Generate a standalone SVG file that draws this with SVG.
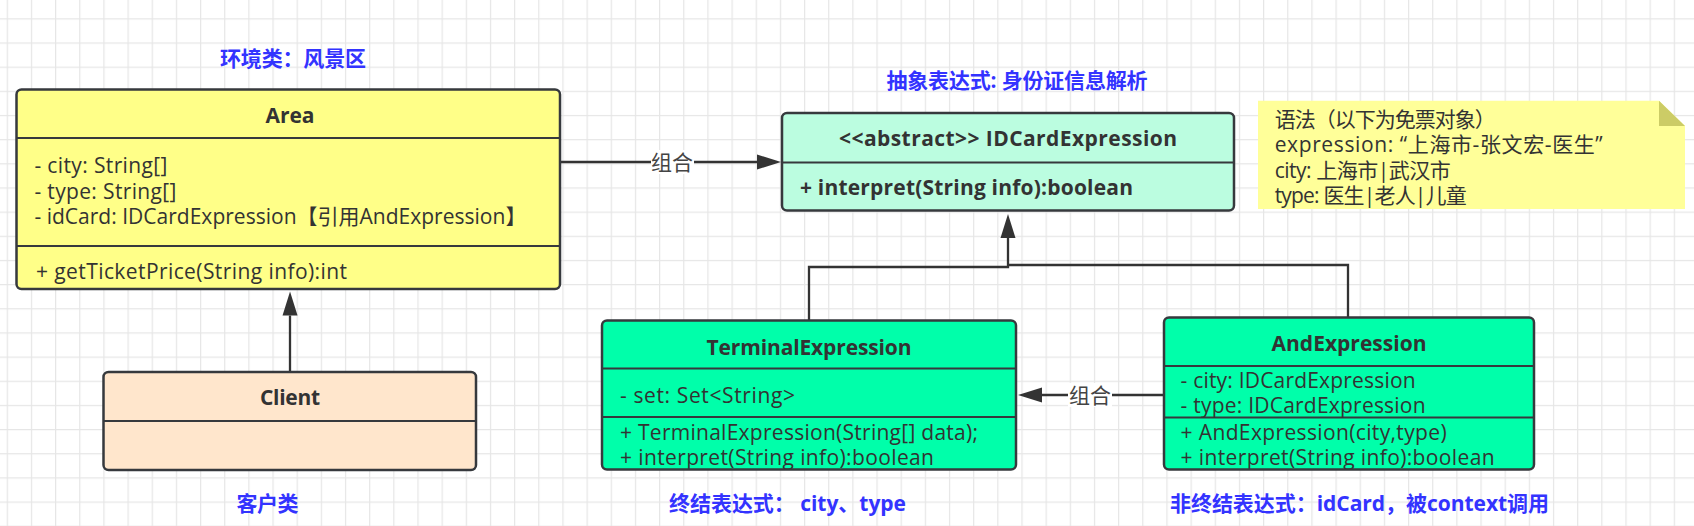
<svg xmlns="http://www.w3.org/2000/svg" width="1694" height="526" viewBox="0 0 1694 526">
<style>
.t{font-family:'Open Sans','Noto Sans CJK SC',sans-serif;font-size:21px;fill:#333333;dominant-baseline:central}
.b{font-weight:bold}
.lbl{fill:#3333ff;font-weight:bold}
.c{text-anchor:middle}
.bd{fill:none;stroke:#36393d;stroke-width:2.5}
.dv{stroke:#36393d;stroke-width:2}
.edge{fill:none;stroke:#333333;stroke-width:2.3}
</style>
<defs>
<pattern id="grid" x="6.7" y="18.3" width="24.16" height="24.16" patternUnits="userSpaceOnUse">
<path d="M0 0.6H24.16M0.6 0V24.16" stroke="#e6e6e6" stroke-width="1.2" fill="none"/>
</pattern>
<marker id="arr" markerUnits="userSpaceOnUse" markerWidth="26" markerHeight="18" refX="0" refY="8" orient="auto" viewBox="0 0 26 16">
<path d="M0 0.5L24 8L0 15.5z" fill="#333333"/>
</marker>
</defs>
<rect x="0" y="0" width="1694" height="526" fill="#ffffff"/>
<rect x="0" y="0" width="1694" height="526" fill="url(#grid)"/>

<g id="edges">
<path class="edge" d="M560 162H757" marker-end="url(#arr)"/>
<rect x="651" y="150" width="43" height="24" fill="#ffffff"/>
<text class="t c" x="672" y="162" style="fill:#444">组合</text>
<path class="edge" d="M290 372V315.5" marker-end="url(#arr)"/>
<path class="edge" d="M809 320V267H1008V238" marker-end="url(#arr)"/>
<path class="edge" d="M1348 317V265H1008"/>
<path class="edge" d="M1164 395H1042" marker-end="url(#arr)"/>
<rect x="1068" y="383" width="44" height="24" fill="#ffffff"/>
<text class="t c" x="1090" y="395" style="fill:#444">组合</text>
</g>

<g id="label-area"><text class="t lbl c" x="293" y="58" textLength="146">环境类：风景区</text></g>
<g id="label-idcard"><text class="t lbl c" x="1017" y="80" textLength="261">抽象表达式: 身份证信息解析</text></g>
<g id="label-client"><text class="t lbl c" x="267.5" y="503" textLength="62">客户类</text></g>
<g id="label-terminal"><text class="t lbl c" x="787.5" y="503" textLength="237">终结表达式： city、type</text></g>
<g id="label-and"><text class="t lbl c" x="1359.5" y="503" textLength="379">非终结表达式：idCard，被context调用</text></g>

<g id="Area">
<rect x="16.5" y="89.5" width="543.5" height="199.5" rx="5" fill="#ffff88"/>
<line class="dv" x1="16.5" y1="138" x2="560" y2="138"/>
<line class="dv" x1="16.5" y1="246" x2="560" y2="246"/>
<text class="t b c" x="290" y="115">Area</text>
<text class="t" x="34.4" y="165" textLength="133">- city: String[]</text>
<text class="t" x="34.4" y="190.7" textLength="142">- type: String[]</text>
<text class="t" x="34.4" y="216" textLength="492">- idCard: IDCardExpression【引用AndExpression】</text>
<text class="t" x="36" y="270.7" textLength="311">+ getTicketPrice(String info):int</text>
<rect class="bd" x="16.5" y="89.5" width="543.5" height="199.5" rx="5"/>
</g>

<g id="Client">
<rect x="103.5" y="372" width="372.5" height="98" rx="5" fill="#ffe6cc"/>
<line class="dv" x1="103.5" y1="421" x2="476" y2="421"/>
<text class="t b c" x="290" y="396.7" textLength="60">Client</text>
<rect class="bd" x="103.5" y="372" width="372.5" height="98" rx="5"/>
</g>

<g id="IDCardExpression">
<rect x="782" y="113" width="452" height="97.5" rx="5" fill="#bbfde0"/>
<line class="dv" x1="782" y1="162.5" x2="1234" y2="162.5"/>
<text class="t b c" x="1008" y="138" textLength="338">&lt;&lt;abstract&gt;&gt; IDCardExpression</text>
<text class="t b" x="800" y="186.7" textLength="333">+ interpret(String info):boolean</text>
<rect class="bd" x="782" y="113" width="452" height="97.5" rx="5"/>
</g>

<g id="note">
<path d="M1258 100.7H1659L1685 126V209H1258z" fill="#ffff99"/>
<path d="M1659 100.7L1685 126H1659z" fill="#cccc66"/>
<text class="t" x="1274.7" y="119" textLength="221">语法（以下为免票对象）</text>
<text class="t" x="1274.7" y="144.3" textLength="328">expression: “上海市-张文宏-医生”</text>
<text class="t" x="1274.7" y="169.7" textLength="176">city: 上海市|武汉市</text>
<text class="t" x="1274.7" y="195" textLength="192">type: 医生|老人|儿童</text>
</g>

<g id="TerminalExpression">
<rect x="602" y="320.5" width="414" height="149" rx="5" fill="#00ffaa"/>
<line class="dv" x1="602" y1="368.5" x2="1016" y2="368.5"/>
<line class="dv" x1="602" y1="417" x2="1016" y2="417"/>
<text class="t b c" x="809" y="346.7" textLength="205">TerminalExpression</text>
<text class="t" x="620" y="395" textLength="175">- set: Set&lt;String&gt;</text>
<text class="t" x="620" y="431.7" textLength="358">+ TerminalExpression(String[] data);</text>
<text class="t" x="620" y="457" textLength="314">+ interpret(String info):boolean</text>
<rect class="bd" x="602" y="320.5" width="414" height="149" rx="5"/>
</g>

<g id="AndExpression">
<rect x="1164" y="317.5" width="370" height="152" rx="5" fill="#00ffaa"/>
<line class="dv" x1="1164" y1="366" x2="1534" y2="366"/>
<line class="dv" x1="1164" y1="417.5" x2="1534" y2="417.5"/>
<text class="t b c" x="1349" y="342.7" textLength="155">AndExpression</text>
<text class="t" x="1180.6" y="380" textLength="235">- city: IDCardExpression</text>
<text class="t" x="1180.6" y="405" textLength="245">- type: IDCardExpression</text>
<text class="t" x="1180.6" y="431.7" textLength="266">+ AndExpression(city,type)</text>
<text class="t" x="1180.6" y="457" textLength="314">+ interpret(String info):boolean</text>
<rect class="bd" x="1164" y="317.5" width="370" height="152" rx="5"/>
</g>
</svg>
